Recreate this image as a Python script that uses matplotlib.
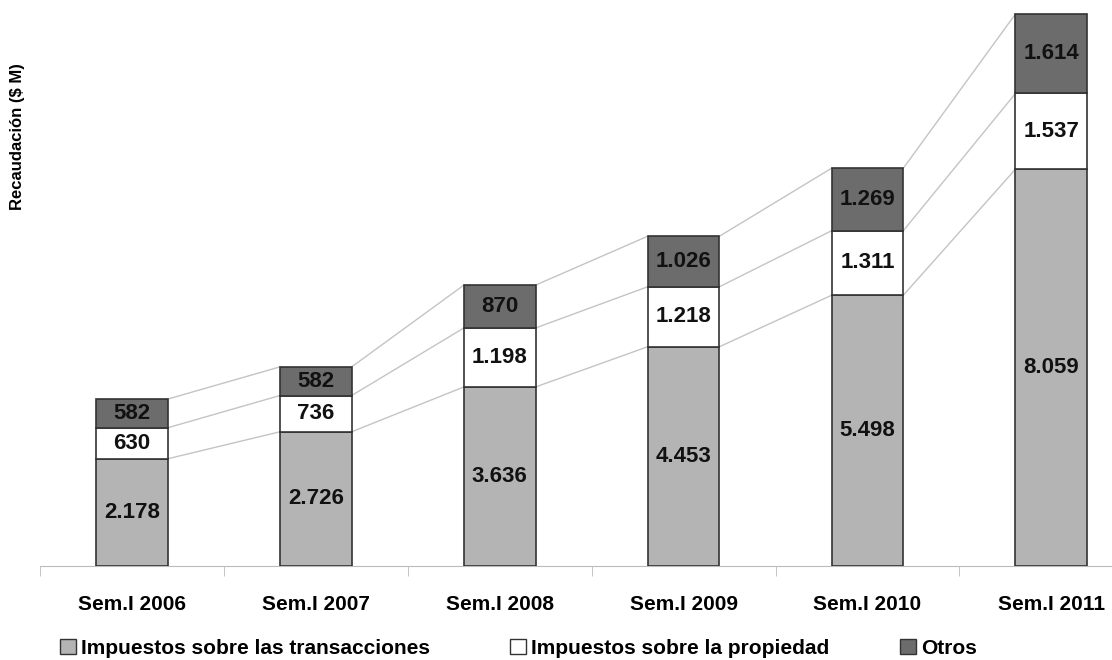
import numpy as np
import matplotlib
matplotlib.use("Agg")
import matplotlib.pyplot as plt
from matplotlib.patches import Patch

plt.rcParams['font.family'] = ['Liberation Sans', 'DejaVu Sans']
plt.rcParams['font.weight'] = 'bold'

# Data (millones de $)
periodos = ["Sem.I 2006", "Sem.I 2007", "Sem.I 2008", "Sem.I 2009", "Sem.I 2010", "Sem.I 2011"]
transacciones = [2178, 2726, 3636, 4453, 5498, 8059]
propiedad = [630, 736, 1198, 1218, 1311, 1537]
otros = [582, 582, 870, 1026, 1269, 1614]
series_names = ["Impuestos sobre las transacciones", "Impuestos sobre la propiedad", "Otros"]

colors = ["#b4b4b4", "#ffffff", "#6c6c6c"]
edge = "#333333"

fig = plt.figure(figsize=(11.12, 6.6), dpi=100)
ax = fig.add_axes([40 / 1112, 94 / 660, 1072 / 1112, 561 / 660])

x = np.arange(len(periodos))
w = 0.39
series = [transacciones, propiedad, otros]
bottom = np.zeros(len(periodos))
tops = []
for vals, col in zip(series, colors):
    vals = np.array(vals)
    ax.bar(x, vals, w, bottom=bottom, color=col, edgecolor=edge, linewidth=1.2, zorder=3)
    for xi, b, v in zip(x, bottom, vals):
        lbl = f"{v:,}".replace(",", ".")
        ax.text(xi, b + v / 2, lbl, ha="center", va="center", fontsize=16,
                fontweight="bold", color="#111111", zorder=4)
    bottom = bottom + vals
    tops.append(bottom.copy())

# connector lines between bars
for t in tops:
    for i in range(len(x) - 1):
        ax.plot([x[i] + w / 2, x[i + 1] - w / 2], [t[i], t[i + 1]],
                color="#c4c4c4", linewidth=1.0, zorder=2)

ax.set_xlim(-0.5, 5.33)
ax.set_ylim(0, 11393)
for s in ["top", "right", "left"]:
    ax.spines[s].set_visible(False)
ax.spines["bottom"].set_color("#bbbbbb")
ax.set_yticks([])
ax.set_xticks(x)
ax.set_xticklabels(periodos, fontsize=15, fontweight="bold")
ax.tick_params(axis="x", which="major", length=0, pad=21)
ax.set_xticks(np.arange(-0.5, 5.5, 1.0), minor=True)
ax.tick_params(axis="x", which="minor", length=7, color="#bbbbbb")

fig.text(18 / 1112, 1 - 137 / 660, "Recaudación ($ M)", rotation=90, ha="center",
         va="center", fontsize=12, fontweight="bold")

# legend entries placed separately
legend_x = [60, 510, 900]
for name, col, lx in zip(series_names, colors, legend_x):
    fig.legend(handles=[Patch(facecolor=col, edgecolor=edge, linewidth=1.0)], labels=[name],
               loc="center left", bbox_to_anchor=(lx / 1112, 1 - 648 / 660),
               frameon=False, fontsize=15, handlelength=0.75, handleheight=0.75,
               handletextpad=0.25, borderpad=0, borderaxespad=0)

fig.savefig("out.png", dpi=100)
